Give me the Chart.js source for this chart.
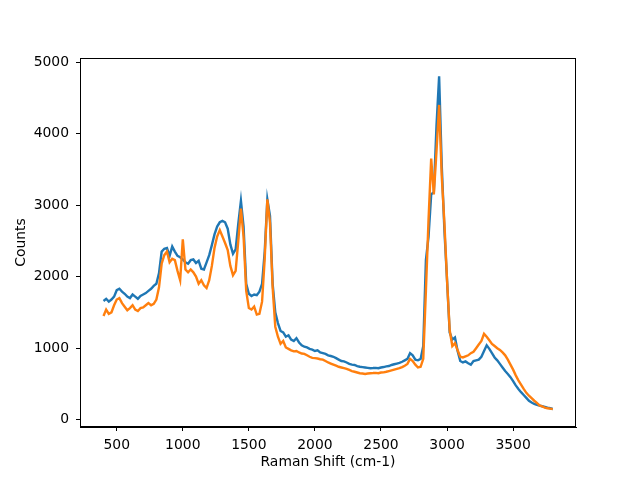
<!DOCTYPE html>
<html>
<head>
<meta charset="utf-8">
<script src="https://cdn.jsdelivr.net/npm/chart.js@4.4.1/dist/chart.umd.min.js"></script>
<style>
  html, body { margin: 0; padding: 0; background: #fff; }
</style>
</head>
<body>
<canvas id="myChart" width="640" height="480"></canvas>
<script>
// Raman shift grid (cm-1), every 20 from 400 to 3800
const ramanShift = [];
for (let s = 400; s <= 3800; s += 20) ramanShift.push(s);

// counts, one value per shift above
const countsBlue = [
    1660, 1690, 1650, 1680, 1720, 1810, 1830, 1790, 1760, 1720,
    1700, 1750, 1720, 1690, 1730, 1750, 1770, 1800, 1830, 1870,
    1900, 2050, 2350, 2390, 2400, 2290, 2420, 2350, 2290, 2270,
    2240, 2200, 2180, 2230, 2240, 2190, 2220, 2110, 2100, 2200,
    2300, 2440, 2590, 2700, 2760, 2780, 2760, 2670, 2450, 2320,
    2380, 2740, 3060, 2700, 1900, 1760, 1730, 1750, 1740, 1790,
    1900, 2350, 3080, 2850, 1900, 1500, 1350, 1240, 1220, 1160,
    1180, 1120, 1100, 1140, 1080, 1040, 1020, 1010, 990, 980,
    960, 970, 940, 930, 920, 900, 890, 880, 860, 840,
    820, 815, 800, 780, 770, 765, 750, 740, 735, 730,
    725, 720, 722, 725, 720, 730, 736, 745, 750, 765,
    775, 785, 795, 810, 830, 850, 930, 900, 840, 830,
    850, 1030, 2230, 2560, 3150, 3180, 4100, 4800, 3550, 2650,
    1950, 1220, 1120, 1150, 960, 820, 800, 815, 790, 770,
    820, 830, 840, 880, 960, 1040, 990, 930, 870, 830,
    780, 730, 680, 640, 595, 540, 480, 430, 385, 345,
    305, 265, 240, 220, 208, 198, 188, 178, 168, 160,
    150
];

const countsOrange = [
    1450, 1540, 1480, 1500, 1600, 1680, 1700, 1630, 1580, 1530,
    1560, 1600, 1540, 1520, 1560, 1570, 1600, 1630, 1600, 1620,
    1680, 1850, 2180, 2300, 2350, 2200, 2250, 2230, 2080, 1950,
    2520, 2100, 2060, 2100, 2060, 2000, 1900, 1950, 1880, 1840,
    1950, 2150, 2400, 2560, 2650, 2560, 2470, 2370, 2150, 2020,
    2080, 2500, 2950, 2560, 1800, 1560, 1540, 1580, 1470, 1480,
    1650, 2250, 3080, 2750, 1850, 1300, 1160, 1060, 1100, 1010,
    990, 970, 955, 960, 940, 925, 920, 900, 880, 865,
    860, 855, 845, 840, 820, 800, 785, 770, 755, 740,
    730, 720, 710, 695, 680, 670, 660, 650, 645, 640,
    645, 650, 652, 655, 650, 660, 662, 670, 680, 690,
    700, 710, 720, 735, 755, 780, 850, 820, 770, 730,
    740, 850, 1800, 2800, 3650, 3150, 3750, 4400, 3400, 2750,
    1950, 1250, 1030, 1070, 970, 880, 870, 885, 900, 930,
    950, 1000, 1050, 1100, 1200, 1160, 1110, 1060, 1030, 1000,
    975, 940, 900, 840, 770, 700, 620, 550, 490, 430,
    375, 335, 300, 265, 235, 200, 185, 170, 160, 155,
    148
];

const xTicks = [500, 1000, 1500, 2000, 2500, 3000, 3500];
const yTicks = [0, 1000, 2000, 3000, 4000, 5000];

Chart.defaults.font.family = 'DejaVu Sans';
Chart.defaults.font.size = 13.9;
Chart.defaults.color = '#000';

// box round the plot area, like the matplotlib spines
const frame = {
    id: 'frame',
    afterDraw(chart) {
        const a = chart.chartArea;
        const c = chart.ctx;
        c.save();
        c.strokeStyle = '#000';
        c.lineWidth = 1;
        c.strokeRect(Math.round(a.left) + 0.5, Math.round(a.top) + 0.5,
            Math.round(a.right - a.left) - 1, Math.round(a.bottom - a.top) - 1);
        c.restore();
    }
};

let ctx = document.getElementById('myChart').getContext('2d');
let myChart = new Chart(ctx, {
    type: 'line',
    data: {
        labels: ramanShift,
        datasets: [
            {
                label: 'blue',
                data: ramanShift.map((s, i) => ({ x: s, y: countsBlue[i] })),
                borderColor: '#1f77b4',
                borderWidth: 2.4,
                pointRadius: 0,
                fill: false,
                tension: 0,
                order: 2
            },
            {
                label: 'orange',
                data: ramanShift.map((s, i) => ({ x: s, y: countsOrange[i] })),
                borderColor: '#ff7f0e',
                borderWidth: 2.4,
                pointRadius: 0,
                fill: false,
                tension: 0,
                order: 1
            }
        ]
    },
    options: {
        responsive: false,
        devicePixelRatio: 1,
        animation: false,
        layout: { padding: { top: 58, right: 64, left: 0, bottom: 0 } },
        plugins: { legend: { display: false }, tooltip: { enabled: false } },
        scales: {
            x: {
                type: 'linear',
                min: 222,
                max: 3976,
                afterBuildTicks: s => { s.ticks = xTicks.map(v => ({ value: v })); },
                afterFit: s => { s.height = 53; },
                grid: { drawOnChartArea: false, tickLength: 4, color: '#000' },
                border: { color: '#000' },
                ticks: { padding: 6, maxRotation: 0, autoSkip: false, callback: v => String(v) },
                title: { display: true, text: 'Raman Shift (cm-1)', padding: { top: 0, bottom: 9 } }
            },
            y: {
                type: 'linear',
                min: -102,
                max: 5056,
                afterBuildTicks: s => { s.ticks = yTicks.map(v => ({ value: v })); },
                afterFit: s => { s.width = 80; },
                grid: { drawOnChartArea: false, tickLength: 4, color: '#000' },
                border: { color: '#000' },
                ticks: { padding: 7, autoSkip: false, callback: v => String(v) },
                title: { display: true, text: 'Counts', padding: { top: 13, bottom: 0 } }
            }
        }
    },
    plugins: [frame]
});
</script>
</body>
</html>
